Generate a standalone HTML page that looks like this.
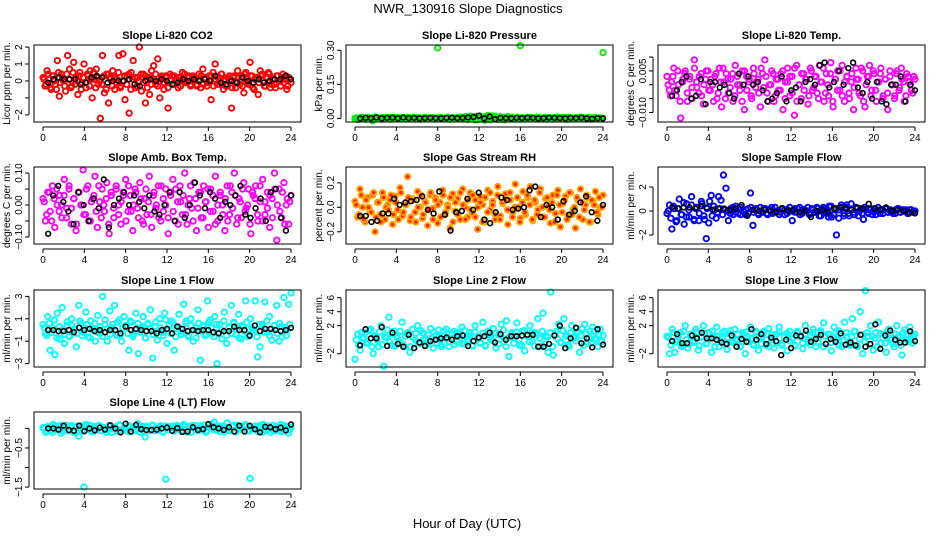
<!DOCTYPE html>
<html><head><meta charset="utf-8"><title>NWR_130916 Slope Diagnostics</title>
<style>
html,body{margin:0;padding:0;background:#fff;}
svg{display:block;font-family:"Liberation Sans",sans-serif;}
</style></head>
<body>
<svg id="chart" width="936" height="540" viewBox="0 0 936 540">
<text x="468" y="13" text-anchor="middle" font-size="13">NWR_130916  Slope Diagnostics</text>
<text x="467" y="528" text-anchor="middle" font-size="13">Hour of Day (UTC)</text>
</svg>
<script>
// ---- data ----
const hourTicks = [0,4,8,12,16,20,24];
const panelTitles = ["Slope Li-820 CO2","Slope Li-820 Pressure","Slope Li-820 Temp.","Slope Amb. Box Temp.","Slope Gas Stream RH","Slope Sample Flow","Slope Line 1 Flow","Slope Line 2 Flow","Slope Line 3 Flow","Slope Line 4 (LT) Flow"];
const yLabels = ["Licor ppm per min.","kPa per min.","degrees C per min.","degrees C per min.","percent per min.","ml/min per min.","ml/min per min.","ml/min per min.","ml/min per min.","ml/min per min."];
const yRanges = [[-2.42,2.12],[-0.016,0.323],[-0.01345,0.01436],[-0.122,0.119],[-0.30,0.33],[-2.75,3.67],[-3.3,3.57],[-3.9,7.1],[-3.9,7.1],[-1.55,0.42]];
const yTickVals = [[-2,-1,0,1,2],[0,0.15,0.30],[-0.010,-0.005,0,0.005,0.010],[-0.10,-0.05,0,0.05,0.10],[-0.2,0,0.2],[-2,0,2],[-3,-1,1,3],[-2,2,4,6],[-2,2,4,6],[-1.5,-1,-0.5,0]];
const yTickLabels = [["−2","","0","1","2"],["0.00","0.15","0.30"],["−0.010","","","0.005",""],["−0.10","","0.00","","0.10"],["−0.2","0.0","0.2"],["−2","0","2"],["−3","−1","1","3"],["−2","2","4","6"],["−2","2","4","6"],["−1.5","","−0.5",""]];
const seriesColors = ["#ff0000","#00ee00","#ff00ff","#ff00ff","#ffa500","#0000ff","#00ffff","#00ffff","#00ffff","#00ffff"];

const co2Vals = [0.2,-0.3,0.6,0.1,-0.5,0.3,-0.2,1.2,-0.9,0.4,0.0,-0.6,1.5,0.7,-0.3,1.1,0.2,-0.8,0.5,-0.1,1.0,-0.4,0.3,0.6,-1.0,0.1,0.7,-0.2,-2.2,1.5,-0.7,0.4,-1.3,0.2,0.6,-0.5,0.1,1.5,-0.3,1.6,-1.1,0.3,-1.9,0.5,1.2,-0.4,0.2,2.0,-0.6,0.4,-1.3,0.1,-0.8,0.6,0.9,-0.2,1.3,-1.0,0.3,-0.5,0.2,-1.6,0.4,-0.2,0.3,0.1,-0.4,0.2,0.5,-0.1,0.0,0.3,-0.3,0.2,0.1,-0.2,0.4,-0.4,0.7,0.1,-0.3,0.3,-1.1,0.5,1.0,-0.2,0.2,0.4,-0.5,0.1,-0.3,0.3,-1.6,0.2,-0.4,0.6,-0.2,0.3,-0.7,0.5,-0.1,1.1,0.3,-0.5,0.2,-0.8,0.6,0.4,-0.3,0.2,0.5,-0.4,0.1,-0.2,0.3,0.0,-0.3,0.4,0.1,-0.5,0.2,-0.1];
const co2Core = [0.1,-0.2,0.4,-0.4,0.3,0.0,-0.5,0.5,-0.1,0.2,-0.3,0.4,0.1,-0.4,0.5,-0.2,0.0,0.3,-0.5,0.2,-0.1,0.4,-0.3,0.1,0.5,-0.4,0.2,0.0,-0.2,0.3,-0.5,0.4,0.1,-0.3,0.2,-0.1,0.5,-0.4,0.0,0.3,-0.2,0.4,-0.5,0.1,0.2,-0.3,0.0,0.4,-0.1,0.3,-0.4,0.2,-0.2,0.1,0.4,-0.3,0.0,0.2,-0.1,0.3,-0.4,0.1,0.3,-0.2,0.0,0.2,-0.3,0.1,0.4,-0.1,0.2,-0.2,0.3,0.0,-0.3,0.1,0.3,-0.2,0.2,-0.1,0.0,0.3,-0.3,0.1,0.2,-0.2,0.4,0.0,-0.3,0.2,0.1,-0.4,0.3,-0.1,0.2,0.0,-0.3,0.4,0.1,-0.2,0.3,-0.4,0.1,0.2,-0.1,0.3,0.0,-0.3,0.2,0.4,-0.2,0.1,-0.4,0.3,0.0,0.2,-0.1,0.3,-0.3,0.1];
const co2Black = [-0.1,0.1,0.2,0.1,0.1,0.1,-0.2,-0.1,0.2,0.3,0.2,-0.1,0.0,0.0,0.0,0.1,-0.2,-0.3,0.0,0.1,0.0,0.1,0.0,-0.2,-0.1,0.1,0.0,0.1,0.0,0.1,0.0,0.3,-0.1,-0.2,0.0,-0.1,0.2,0.0,-0.1,0.1,-0.1,0.0,0.1,0.1,0.3,0.1];
const presVals = [0.0,-0.005,0.002,0.004,-0.003,0.005,0.0,-0.01,0.006,0.002,-0.002,0.004,0.0,0.003,-0.004,0.002,0.005,-0.002,0.001,0.003,-0.003,0.004,0.0,0.002,-0.004,0.003,0.001,-0.002,0.004,0.0,0.002,-0.003,0.001,0.31,0.003,-0.002,0.0,0.004,-0.003,0.002,0.001,0.005,-0.002,0.003,0.0,-0.004,0.006,0.002,0.008,-0.006,0.01,0.004,-0.008,0.012,0.006,0.0,0.009,-0.005,0.007,0.004,-0.006,0.008,0.003,0.001,-0.004,0.005,0.32,0.002,-0.003,0.004,0.0,0.003,-0.002,0.005,0.001,-0.003,0.004,0.0,0.002,-0.004,0.003,0.006,-0.002,0.001,0.004,-0.005,0.002,0.0,0.003,-0.002,0.005,0.001,-0.003,0.004,0.002,-0.001,0.003,0.0,0.002,0.29];
const presCore = [0.002,-0.003,0.004,0.0,-0.004,0.003,0.001,-0.002,0.005,-0.001,0.002,-0.004,0.003,0.0,0.004,-0.003,0.001,0.003,-0.002,0.004,0.0,-0.003,0.002,0.005,-0.001,0.003,-0.004,0.001,0.004,-0.002,0.0,0.003,-0.003,0.002,0.005,-0.002,0.001,0.004,-0.004,0.002,0.0,0.003,0.006,-0.003,0.008,-0.005,0.01,0.004,-0.007,0.009,0.002,-0.004,0.007,0.0,-0.006,0.011,0.003,-0.002,0.006,-0.005,0.004,0.001,-0.003,0.005,0.0,0.002,-0.004,0.003,0.001,-0.002,0.004,0.0,-0.003,0.005,0.002,-0.001,0.003,-0.004,0.002,0.0,0.004,-0.002,0.001,0.003,-0.003,0.002,0.005,-0.001,0.0,0.003,-0.002,0.004,0.001,-0.003,0.002,0.0,0.003,-0.001,0.002,0.001];
const presBlack = [0.0,0.002,0.001,0.004,0.0,0.002,0.003,0.0,0.004,0.001,0.002,0.0,0.001,0.002,0.001,0.0,0.002,0.003,0.001,0.002,0.004,0.006,0.012,0.0,0.008,-0.004,0.002,0.001,0.0,0.002,0.001,0.003,0.002,0.0,0.001,0.003,0.002,0.001,0.0,0.002,0.001,0.003,0.0,-0.002,0.001,0.0];
const tempVals = [0.003,-0.002,0.001,0.006,-0.004,0.0,-0.012,0.002,0.005,-0.006,0.003,-0.001,0.009,0.001,-0.003,0.004,-0.007,0.002,0.005,-0.002,0.0,0.003,-0.005,0.006,-0.008,0.001,0.004,-0.003,0.002,-0.006,0.007,0.0,-0.002,0.005,-0.009,0.003,0.001,-0.004,0.006,-0.001,0.002,-0.008,0.004,0.009,-0.003,0.0,0.005,-0.006,0.002,-0.002,0.004,-0.009,0.001,0.006,-0.004,0.003,-0.011,0.007,0.0,-0.005,0.004,0.002,-0.007,0.006,-0.002,0.003,-0.003,0.007,0.001,-0.006,0.004,-0.004,0.008,-0.008,0.002,0.005,-0.002,0.007,-0.006,0.003,-0.003,0.001,-0.009,0.006,0.002,-0.004,0.005,-0.008,0.003,0.007,-0.002,0.004,-0.006,0.001,0.006,-0.004,0.002,-0.009,0.005,0.0,-0.005,0.004,-0.002,0.006,0.001,-0.004,0.003,0.0,-0.003,0.002];
const tempCore = [0.0,-0.004,0.003,-0.002,0.005,-0.006,0.001,0.004,-0.003,0.002,-0.005,0.006,-0.001,0.003,-0.004,0.0,0.005,-0.002,0.002,-0.006,0.004,-0.003,0.001,0.006,-0.005,0.002,-0.001,0.004,-0.004,0.003,0.0,-0.006,0.005,-0.002,0.002,-0.005,0.004,0.001,-0.003,0.006,-0.001,0.003,-0.006,0.0,0.004,-0.004,0.002,-0.002,0.005,-0.005,0.001,0.003,-0.003,0.006,-0.006,0.0,0.004,-0.002,0.002,-0.004,0.005,-0.001,0.003,-0.005,0.001,0.006,-0.003,0.0,0.004,-0.006,0.002,-0.002,0.005,-0.004,0.001,0.003,-0.005,0.004,-0.001,0.002,-0.003,0.006,-0.006,0.0,0.003,-0.004,0.005,-0.002,0.001,0.004,-0.005,0.002,-0.003,0.003,0.0,-0.004,0.005,-0.001,0.002,-0.006,0.004,0.001,-0.002,0.003];
const tempBlack = [-0.004,-0.002,0.001,0.003,-0.005,-0.004,0.002,-0.007,0.001,0.001,-0.001,0.0,-0.003,-0.005,0.004,0.0,0.003,0.0,0.001,-0.002,-0.006,-0.005,-0.003,0.003,-0.006,-0.002,-0.001,-0.006,0.001,0.002,0.0,0.007,0.008,-0.001,0.001,0.005,0.0,0.006,0.008,-0.001,-0.003,0.001,-0.005,0.001,-0.006,-0.007,0.0,0.0,0.003,-0.006,0.0,-0.002];
const ambVals = [0.02,-0.05,0.04,-0.02,0.06,-0.07,0.0,0.03,-0.04,0.08,-0.01,0.05,-0.06,0.02,-0.08,0.04,0.0,0.11,-0.03,0.06,-0.05,0.02,0.09,-0.07,0.01,0.05,-0.02,0.07,-0.09,0.03,-0.04,0.06,0.0,-0.06,0.04,0.08,-0.02,0.03,-0.08,0.05,-0.01,0.07,-0.05,0.02,-0.03,0.09,-0.07,0.04,0.0,-0.04,0.06,-0.02,0.05,-0.09,0.03,0.08,-0.05,0.01,0.06,-0.03,0.1,-0.06,0.02,-0.01,0.07,-0.08,0.04,-0.04,0.06,0.01,-0.07,0.05,-0.02,0.09,-0.05,0.03,0.0,-0.08,0.06,-0.03,0.04,0.1,-0.06,0.02,-0.04,0.07,-0.01,0.05,-0.09,0.03,0.06,-0.05,0.01,0.08,-0.03,0.04,-0.07,0.02,0.1,-0.11,0.05,-0.04,0.07,0.0,-0.06,0.03];
const ambCore = [0.01,-0.03,0.04,-0.05,0.02,0.05,-0.02,0.0,0.03,-0.04,0.06,-0.01,0.02,-0.06,0.04,0.0,-0.03,0.05,-0.05,0.01,0.03,-0.02,0.06,-0.04,0.0,0.02,-0.06,0.04,-0.01,0.05,-0.03,0.01,0.03,-0.05,0.06,-0.02,0.0,0.04,-0.04,0.02,-0.06,0.05,0.01,-0.03,0.03,-0.01,0.06,-0.05,0.02,0.0,-0.04,0.04,-0.02,0.05,-0.06,0.01,0.03,-0.03,0.0,0.06,-0.05,0.02,-0.01,0.04,-0.04,0.01,0.05,-0.02,0.03,-0.06,0.0,0.04,-0.03,0.02,-0.05,0.06,-0.01,0.03,-0.04,0.01,0.05,-0.02,0.0,-0.06,0.04,0.02,-0.03,0.06,-0.05,0.01,-0.01,0.03,-0.04,0.05,0.0,-0.02,0.04,-0.06,0.02,0.01];
const ambBlack = [-0.09,0.03,0.06,0.01,-0.02,-0.06,0.04,0.0,-0.05,0.02,-0.01,0.08,-0.07,0.0,0.02,0.04,0.0,0.03,0.01,-0.01,0.03,-0.02,-0.03,0.0,0.04,-0.05,0.04,-0.04,0.0,0.07,0.03,-0.01,0.04,0.02,-0.04,0.01,0.0,0.03,0.06,-0.03,-0.04,-0.01,0.02,-0.05,0.04,0.05,-0.04,-0.08,0.03];
const rhVals = [0.05,-0.08,0.15,0.0,-0.12,0.08,-0.03,0.1,-0.2,0.04,-0.06,0.12,-0.1,0.02,0.06,-0.14,0.09,-0.02,0.16,-0.07,0.03,0.25,-0.11,0.07,-0.04,0.13,0.0,-0.09,0.05,-0.15,0.1,-0.01,0.08,-0.13,0.04,0.14,-0.06,0.02,-0.17,0.11,-0.03,0.07,-0.1,0.15,0.0,-0.08,0.12,-0.05,0.06,-0.18,0.09,0.02,-0.12,0.14,-0.02,0.05,-0.1,0.17,-0.07,0.03,0.11,-0.14,0.06,-0.04,0.19,0.0,-0.09,0.13,-0.06,0.08,0.17,-0.11,0.04,-0.02,0.15,-0.08,0.07,0.01,-0.13,0.1,-0.05,0.14,-0.16,0.03,0.09,-0.07,0.12,-0.02,-0.17,0.06,0.15,-0.1,0.02,0.08,-0.12,0.05,0.13,-0.06,0.0,0.1];
const rhCore = [0.02,-0.06,0.1,-0.1,0.06,0.0,-0.04,0.12,-0.08,0.04,-0.12,0.08,0.0,-0.02,0.1,-0.06,0.04,-0.1,0.12,-0.04,0.02,0.08,-0.08,0.06,-0.12,0.0,0.1,-0.06,0.04,-0.02,0.12,-0.1,0.06,0.02,-0.08,0.1,-0.04,0.0,0.08,-0.12,0.04,-0.06,0.12,0.02,-0.1,0.06,-0.02,0.1,-0.08,0.0,0.04,-0.12,0.08,-0.04,0.12,0.02,-0.06,0.1,-0.1,0.04,0.06,-0.02,0.12,-0.08,0.0,0.08,-0.12,0.04,-0.04,0.1,0.02,-0.1,0.06,-0.06,0.12,0.0,-0.08,0.08,-0.02,0.04,-0.12,0.1,0.02,-0.04,0.06,-0.1,0.12,-0.06,0.0,0.08,-0.08,0.04,-0.02,0.1,-0.12,0.06,0.02,-0.04,0.08,0.0];
const rhBlack = [-0.07,-0.07,-0.12,-0.11,-0.05,-0.05,0.07,0.02,0.04,0.05,0.06,0.09,-0.02,-0.05,0.13,-0.06,-0.19,-0.04,-0.03,0.07,-0.02,0.12,-0.1,-0.13,-0.04,0.08,0.06,-0.02,-0.01,0.0,0.14,0.17,-0.08,0.02,0.0,-0.1,0.05,-0.06,-0.03,0.04,0.09,-0.04,-0.11,0.02];
const sflowVals = [-0.2,0.5,-1.5,0.2,-0.8,1.0,-0.3,-1.1,0.6,-0.5,1.2,-0.7,0.3,-0.8,0.8,-0.4,-2.3,-1.0,1.3,0.4,-0.6,1.2,0.9,3.0,1.9,-0.8,0.2,-0.3,0.4,-0.2,0.3,0.0,-0.3,0.2,1.5,-1.2,0.1,-0.2,0.3,-0.1,0.2,-0.3,0.1,-0.2,0.3,0.0,-0.1,0.2,-0.3,0.1,0.0,-0.8,0.2,-0.1,0.3,-0.2,0.1,0.0,-0.3,0.2,-0.1,0.3,-0.4,0.2,0.0,-0.2,0.4,-0.5,-0.3,-2.0,0.1,0.5,-0.4,0.3,-0.2,0.6,-0.1,0.3,-0.4,0.2,-0.7,0.1,-0.2,0.2,0.0,-0.3,0.3,0.1,-0.2,0.2,-0.1,0.1,0.0,-0.2,0.2,-0.1,0.1,0.0,-0.2,0.1,-0.1,0.0];
const sflowCore = [0.0,-0.6,0.4,-0.9,0.2,-0.3,0.7,-0.5,0.1,0.5,-0.8,0.3,-0.2,0.6,-0.7,0.2,0.8,-0.4,0.1,-0.1,0.2,-0.3,0.1,0.0,-0.2,0.3,-0.1,0.2,-0.3,0.0,0.1,-0.2,0.3,-0.1,0.2,-0.3,0.0,0.2,-0.2,0.1,0.3,-0.1,0.0,-0.3,0.2,0.1,-0.2,0.3,0.0,-0.1,0.2,-0.3,0.1,0.0,0.3,-0.2,0.1,-0.1,0.2,-0.4,0.3,0.0,-0.5,0.4,-0.3,0.2,-0.6,0.3,-0.2,0.5,-0.4,0.1,-0.3,0.2,0.0,-0.2,0.3,-0.1,0.1,-0.3,0.2,0.0,-0.2,0.1,0.2,-0.1,0.0,-0.2,0.1,0.2,-0.1,0.0,0.1,-0.2,0.1,0.0];
const sflowBlack = [0.3,0.2,0.3,0.3,0.2,0.4,0.3,0.1,0.2,0.2,0.1,0.2,0.5,-0.4,0.1,0.0,0.1,0.0,-0.1,0.2,0.0,0.1,-0.1,0.0,-0.5,0.0,0.1,-0.1,0.2,0.3,0.2,0.1,0.3,0.2,0.6,0.2,0.1,0.3,0.0,0.1,0.0,-0.1,-0.2];
const l1Vals = [0.5,-0.3,1.2,-1.8,0.2,-2.2,1.5,-0.8,2.0,-1.2,0.4,-0.5,1.0,0.0,-1.5,2.2,0.6,-0.2,1.6,-0.6,0.8,0.1,-1.0,1.3,-0.3,3.0,0.5,-1.0,1.7,0.2,2.2,-0.5,0.9,-1.0,1.2,0.3,-1.8,0.7,-0.4,1.5,-2.1,0.2,1.2,-0.7,0.6,1.8,-2.5,0.3,-0.9,1.0,-0.2,1.5,-1.2,0.4,0.8,-1.8,0.1,1.4,-0.4,2.3,0.6,-0.6,1.0,-1.0,0.2,1.8,-2.7,0.4,-0.5,2.6,0.9,-0.3,1.2,-3.0,0.5,-0.8,1.6,-1.2,0.2,2.2,0.7,-0.4,1.4,-0.8,0.3,2.6,-0.6,1.0,0.1,2.6,-2.4,-1.5,0.5,2.5,-0.2,1.2,-0.9,0.4,2.2,-1.0,0.3,2.9,-0.5,2.3,3.3];
const l1Core = [0.2,-0.5,0.6,-0.2,0.9,-0.7,0.3,0.0,-0.4,0.7,-0.6,0.4,0.1,-0.3,0.8,-0.5,0.2,0.5,-0.7,0.0,0.6,-0.2,0.3,-0.6,0.9,0.1,-0.4,0.5,-0.1,0.7,-0.5,0.2,0.4,-0.3,0.8,-0.6,0.0,0.6,-0.2,0.3,-0.7,0.5,0.1,-0.4,0.7,-0.1,0.2,-0.5,0.9,0.0,-0.3,0.6,-0.6,0.3,0.1,-0.2,0.8,-0.5,0.4,0.0,-0.7,0.6,-0.1,0.3,-0.4,0.7,0.2,-0.6,0.5,-0.2,0.0,0.8,-0.5,0.3,-0.3,0.6,0.1,-0.7,0.4,-0.1,0.7,-0.4,0.2,0.0,-0.6,0.5,0.3,-0.2,0.8,-0.5,0.1,0.4,-0.3,0.6,-0.6,0.2,0.0,0.5];
const l1Black = [0.0,0.0,-0.1,-0.1,0.0,-0.2,0.2,0.0,0.1,-0.1,0.0,-0.2,0.0,0.0,-0.3,0.3,0.0,0.1,0.0,-0.1,-0.1,-0.3,0.0,0.1,-0.3,0.3,0.1,-0.1,0.0,-0.1,0.0,0.0,-0.2,-0.3,-0.1,-0.1,0.3,0.0,0.0,-0.5,0.4,-0.1,0.1,0.1,0.0,-0.1,0.0,0.2];
const l2Vals = [-2.8,0.8,-1.5,0.2,1.0,-0.5,1.5,-2.0,0.4,-1.0,2.0,-3.8,0.3,3.2,-0.8,1.2,0.5,-0.3,2.5,-1.0,0.8,-1.8,1.5,0.0,2.0,-0.6,1.0,0.2,-0.4,1.6,-1.2,0.6,1.4,-0.7,0.5,1.5,-1.0,0.2,1.2,-0.3,0.8,1.8,-0.6,0.4,1.0,-0.8,2.0,0.3,-0.5,2.5,-0.9,1.2,0.0,1.6,-1.2,0.7,2.2,-0.3,2.7,-2.4,1.0,0.4,2.4,-0.8,1.2,-1.6,0.6,2.0,-0.2,1.0,3.0,-1.0,3.8,0.5,-1.8,6.8,-2.2,1.2,2.2,-0.4,3.0,0.8,-1.0,2.0,0.3,1.0,-1.8,1.6,2.2,-0.5,1.2,1.8,0.2,-1.0,1.5,0.6];
const l2Core = [0.0,-0.8,1.0,0.3,-0.5,1.3,-1.0,0.6,0.0,1.1,-0.7,0.4,1.4,-0.3,0.8,-0.9,0.2,1.2,-0.6,0.5,1.0,-1.0,0.3,0.9,-0.4,1.3,0.0,-0.8,0.7,0.2,1.1,-0.5,0.4,-1.0,1.2,0.1,-0.3,0.8,-0.7,1.0,0.3,-0.6,1.3,0.0,0.6,-0.9,1.1,0.2,-0.4,0.9,-0.8,1.2,0.4,-0.2,1.0,-0.6,0.6,1.4,-1.0,0.3,0.8,-0.5,1.1,0.0,-0.8,1.3,0.5,-0.3,1.0,-0.9,0.7,0.2,1.2,-0.6,0.4,1.0,-1.0,0.8,0.1,-0.4,1.3,0.5,-0.7,1.0,0.2,-0.2,1.1,0.6,-0.8,0.9,0.3,-0.5,1.2,0.0,0.7,-0.3];
const l2Black = [-0.8,1.5,0.2,0.2,1.8,-0.9,1.0,-0.6,-1.0,0.7,-1.2,-0.4,-0.9,-0.2,0.0,0.2,0.3,0.0,0.5,0.6,-0.9,-0.2,0.3,0.5,1.0,-0.4,0.8,0.0,0.5,0.5,0.6,0.7,0.7,-1.0,-1.0,-0.6,0.6,2.0,-1.2,0.2,1.7,-0.5,0.2,-1.1,1.5,-0.7];
const l3Vals = [0.5,-2.0,1.5,-1.8,0.0,1.0,-0.8,2.0,-1.2,0.6,-0.4,1.5,-1.5,0.3,2.0,-0.6,1.0,-1.8,0.5,1.8,-1.0,0.2,1.2,-1.4,0.8,-0.2,1.5,0.0,-1.0,1.0,-2.0,0.4,1.8,-0.6,1.2,-1.5,0.3,1.0,-0.8,1.6,0.0,-1.2,0.8,1.8,-0.5,0.4,-1.6,1.2,0.2,-0.8,1.0,0.5,-1.3,2.0,-0.4,0.6,1.5,-1.0,0.3,1.0,2.4,-0.6,0.8,-1.6,1.8,0.0,1.2,-1.0,2.5,0.4,-0.8,3.0,1.2,-1.0,4.0,-2.0,7.0,0.5,2.0,-1.5,1.0,2.5,-0.5,0.8,-1.8,1.5,0.2,-1.0,2.0,0.6,-2.2,1.4,0.0,1.8,-0.5,0.8];
const l3Core = [0.3,-0.8,1.0,-0.3,0.6,-1.0,1.2,0.0,-0.6,0.8,-0.2,1.1,-0.9,0.4,0.9,-0.5,0.2,1.2,-1.0,0.5,-0.2,1.0,-0.7,0.3,1.3,-0.4,0.0,0.8,-0.9,0.6,1.1,-0.3,0.2,-0.8,1.0,0.4,-0.6,1.2,0.0,-1.0,0.7,0.3,-0.4,1.1,-0.8,0.5,0.9,-0.2,0.1,-0.9,1.2,0.4,-0.5,0.8,0.0,-0.7,1.0,0.3,-0.3,1.3,-1.0,0.5,0.8,-0.4,0.2,1.1,-0.8,0.6,-0.1,1.0,-0.6,0.4,1.2,-0.9,0.1,0.7,-0.3,1.0,-0.7,0.5,0.2,-1.0,0.9,0.3,-0.5,1.2,0.0,-0.6,0.8,0.4,-0.8,1.0,0.1,-0.3,0.7,0.5];
const l3Black = [-0.2,0.8,-0.5,-0.5,0.6,0.2,1.0,0.2,0.2,0.0,-0.4,-0.6,0.6,-1.0,0.1,-0.3,1.5,0.0,0.8,-0.6,0.3,-0.2,-2.2,0.0,-1.2,0.6,0.5,1.3,-0.3,0.1,0.7,-0.6,0.1,-0.3,0.9,-0.7,-0.4,-0.8,0.7,-1.0,-0.6,2.2,-1.3,0.6,1.3,0.0,-0.4,-0.4,1.2,-0.2];
const l4Vals = [0.02,-0.1,0.05,-0.05,0.1,-0.02,0.06,-0.12,0.0,0.08,-0.06,0.03,-0.1,0.05,-0.2,0.07,-1.5,0.1,0.0,-0.08,0.05,-0.04,0.08,-0.06,0.02,-0.03,0.06,-0.1,0.04,-0.02,0.09,-0.05,0.03,-0.07,0.06,0.0,-0.03,0.12,-0.1,0.05,-0.22,0.03,-0.06,0.08,0.0,-0.04,0.07,-0.08,-1.3,0.05,0.02,0.06,-0.02,0.04,-0.07,0.1,-0.03,0.05,-0.1,0.03,0.07,-0.05,0.0,0.08,-0.06,0.03,0.1,0.16,-0.05,0.06,0.0,-0.09,0.14,-0.02,0.05,-0.07,0.08,0.0,-0.04,0.1,-0.06,-1.28,0.03,0.06,-0.08,0.02,0.1,-0.05,0.04,-0.1,0.08,0.0,-0.06,0.1,-0.02,0.05,-0.12,0.03];
const l4Core = [0.0,-0.06,0.04,-0.1,0.06,-0.02,0.08,-0.08,0.02,-0.04,0.07,-0.1,0.03,0.0,-0.07,0.05,-0.03,0.08,-0.09,0.01,0.06,-0.05,0.02,-0.1,0.07,-0.01,0.04,-0.07,0.08,-0.03,0.0,0.06,-0.09,0.03,-0.05,0.07,0.01,-0.08,0.05,-0.02,0.08,-0.06,0.0,0.04,-0.1,0.06,-0.03,0.02,-0.07,0.08,0.0,-0.05,0.05,-0.09,0.03,0.07,-0.02,-0.06,0.06,0.0,-0.1,0.04,0.08,-0.04,0.02,-0.08,0.06,-0.01,0.03,-0.06,0.08,-0.09,0.01,0.05,-0.03,0.07,-0.07,0.0,0.04,-0.05,0.08,-0.1,0.02,0.06,-0.02,-0.06,0.05,0.0,-0.08,0.07,0.03,-0.04];
const l4Black = [0.0,0.0,-0.03,0.07,-0.04,-0.06,0.07,-0.07,0.0,-0.05,0.02,-0.03,0.08,0.0,-0.1,0.12,-0.08,0.09,-0.02,-0.04,-0.04,-0.03,0.0,0.02,-0.06,0.01,-0.09,-0.08,0.03,-0.04,-0.02,0.11,0.03,0.0,-0.04,0.03,-0.08,0.07,-0.08,0.07,-0.02,-0.1,0.04,0.03,-0.02,0.02,-0.05,0.1];

const colorSeries = [co2Vals,presVals,tempVals,ambVals,rhVals,sflowVals,l1Vals,l2Vals,l3Vals,l4Vals];
const coreSeries = [co2Core,presCore,tempCore,ambCore,rhCore,sflowCore,l1Core,l2Core,l3Core,l4Core];
const blackSeries = [co2Black,presBlack,tempBlack,ambBlack,rhBlack,sflowBlack,l1Black,l2Black,l3Black,l4Black];
const panelKeys = ["co2","pressure","temp","amb-box-temp","gas-rh","sample-flow","line1-flow","line2-flow","line3-flow","line4-flow"];

// ---- layout ----
const NS = "http://www.w3.org/2000/svg";
const svg = document.getElementById("chart");
const colLeft = [34,346,658], boxW = 267, rowTop = [45,167,290,412], boxH = 77;
function mk(tag, attrs, parent){ const e=document.createElementNS(NS,tag); for(const k in attrs) e.setAttribute(k,attrs[k]); (parent||svg).appendChild(e); return e; }

panelKeys.forEach((key, p) => {
  const L = colLeft[p%3], T = rowTop[Math.floor(p/3)];
  const g = mk("g", {});
  
  
  const xs = h => L + 9 + h * 248 / 24;
  const [y0, y1] = yRanges[p];
  const ys = v => T + boxH - (v - y0) / (y1 - y0) * boxH;

  const tt = mk("text", {x: L + boxW/2, y: T - 6, "text-anchor": "middle", "font-size": 11, "font-weight": "bold"}, g);
  tt.textContent = panelTitles[p];
  
  

  const pts = mk("g", {}, g);
  
  
  [colorSeries[p], coreSeries[p]].forEach((cv, s) => {
    const n = cv.length;
    cv.forEach((v, i) => {
      const c = mk("circle", {cx: xs((i + s * 0.5) * 24 / (n - 1 + s)), cy: ys(v), r: 2.7, fill: p===4 ? "#ff2000" : "none", stroke: seriesColors[p], "stroke-width": 1.9}, pts);
      
      
    });
  });
  const bv = blackSeries[p], m = bv.length;
  bv.forEach((v, i) => {
    const c = mk("circle", {cx: xs(0.5 + i * 23.5 / (m - 1)), cy: ys(v), r: 2.4, fill: "none", stroke: "#000", "stroke-width": 1.6}, pts);
    
    
  });

  const box = mk("rect", {x: L, y: T, width: boxW, height: boxH, fill: "none", stroke: "#000", "stroke-width": 1}, g);
  
  

  const xa = mk("g", {}, g);
  
  
  const ay = T + boxH + 5;
  mk("line", {x1: xs(0), x2: xs(24), y1: ay, y2: ay, stroke: "#000"}, xa);
  hourTicks.forEach(h => {
    mk("line", {x1: xs(h), x2: xs(h), y1: ay, y2: ay + 4, stroke: "#000"}, xa);
    const t = mk("text", {x: xs(h), y: ay + 14, "text-anchor": "middle", "font-size": 10}, xa);
    t.textContent = h;
    
    
  });

  const ya = mk("g", {}, g);
  
  
  const tv = yTickVals[p];
  mk("line", {x1: L - 5, x2: L - 5, y1: ys(tv[0]), y2: ys(tv[tv.length-1]), stroke: "#000"}, ya);
  tv.forEach((v, i) => {
    mk("line", {x1: L - 9, x2: L - 5, y1: ys(v), y2: ys(v), stroke: "#000"}, ya);
    const lbl = yTickLabels[p][i];
    if (lbl) {
      const t = mk("text", {x: L - 12, y: ys(v), "text-anchor": "middle", "font-size": 10, transform: `rotate(-90 ${L-12} ${ys(v)})`}, ya);
      t.textContent = lbl;
      
      
    }
  });
  const yl = mk("text", {x: L - 24, y: T + boxH/2, "text-anchor": "middle", "font-size": 10, transform: `rotate(-90 ${L-24} ${T+boxH/2})`}, ya);
  yl.textContent = yLabels[p];
  
  
});
</script>
</body></html>
